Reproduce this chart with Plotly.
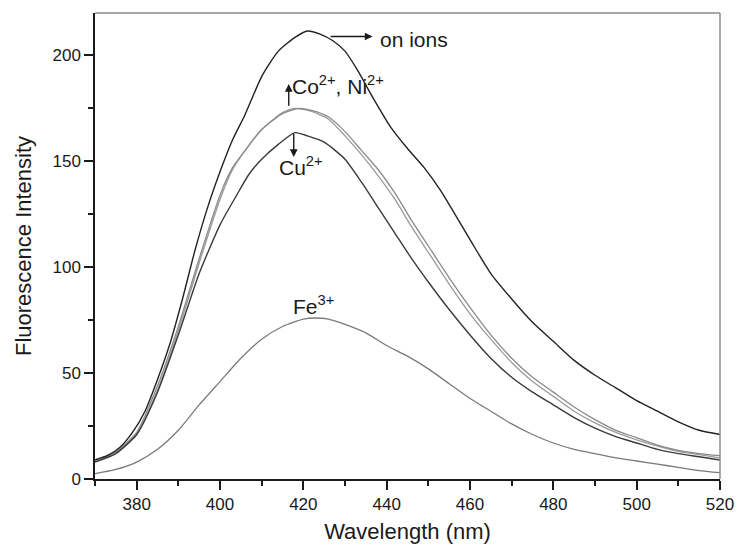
import plotly.graph_objects as go

# ---- data ----
wl_none = [370, 373, 376, 379, 382, 385, 388, 391, 394, 397, 400, 403, 406, 410, 414, 418, 421, 424, 427, 430, 433, 437, 441, 445, 449, 453, 460, 465, 470, 475, 480, 485, 490, 495, 500, 505, 510, 515, 520]
int_none = [9, 11, 15, 22, 32, 47, 64, 85, 108, 128, 145, 160, 172, 190, 202, 208.5, 211.5, 210, 207, 202, 193, 179, 166, 156, 147, 136, 113, 97, 85, 74, 65, 56, 49, 43, 37, 32, 27, 23, 21]

wl_co = [370, 375, 380, 385, 390, 395, 400, 403, 406, 410, 415, 419, 422, 426, 430, 434, 438, 442, 446, 450, 455, 460, 465, 470, 475, 480, 485, 490, 495, 500, 505, 510, 515, 520]
int_co = [9, 13, 22, 44, 72, 104, 134, 147, 155, 165, 172.5, 175, 174, 171, 164, 155, 146, 135, 122, 110, 95, 81, 68, 57, 48, 41, 34, 28, 23, 19.5, 16, 13.5, 12, 11]

wl_ni = [370, 375, 380, 385, 390, 395, 400, 403, 406, 410, 415, 418, 422, 426, 430, 434, 438, 442, 446, 450, 455, 460, 465, 470, 475, 480, 485, 490, 495, 500, 505, 510, 515, 520]
int_ni = [8.5, 12.5, 21, 42, 70, 102, 132, 146, 155, 165, 173, 175, 173.5, 170, 162, 153, 143, 132, 119, 107, 92, 78, 66, 55, 46, 39, 32, 26.5, 22, 18.5, 15.5, 13, 11.5, 10]

wl_cu = [370, 375, 380, 385, 390, 395, 400, 404, 407, 410, 414, 418, 421, 425, 430, 434, 438, 442, 446, 450, 455, 460, 465, 470, 475, 480, 485, 490, 495, 500, 505, 510, 515, 520]
int_cu = [8, 12, 21, 41, 68, 97, 120, 134, 144, 151, 158, 163.5, 162, 159, 151, 140, 128, 116, 104, 93, 80, 68, 57, 48, 41, 35, 29, 24, 20, 17, 14, 12, 10.5, 9]

wl_fe = [370, 375, 380, 385, 390, 395, 400, 405, 410, 415, 420, 423, 426, 430, 435, 440, 445, 450, 455, 460, 465, 470, 475, 480, 485, 490, 495, 500, 505, 510, 515, 520]
int_fe = [2.5, 4.5, 8, 14, 23, 35, 46, 57, 66, 72, 75.5, 76, 75.5, 73, 69, 63, 58, 52, 45, 38, 32, 26, 21, 17, 14, 12, 10, 8.5, 7, 5.5, 4, 3]

x_ticks = [380, 400, 420, 440, 460, 480, 500, 520]
y_ticks = [0, 50, 100, 150, 200]

FONT = "Arial, 'Liberation Sans', Helvetica, sans-serif"
INK = "#1a1a1a"

fig = go.Figure()
series = [
    (wl_fe, int_fe, "#7a7a7a", 1.3),
    (wl_ni, int_ni, "#9a9a9a", 1.3),
    (wl_co, int_co, "#8a8a8a", 1.3),
    (wl_cu, int_cu, "#3a3a3a", 1.4),
    (wl_none, int_none, "#222222", 1.4),
]
for xs, ys, col, w in series:
    fig.add_trace(go.Scatter(x=xs, y=ys, mode="lines",
                             line=dict(color=col, width=w, shape="spline", smoothing=0.6),
                             showlegend=False, hoverinfo="skip"))

ann_font = dict(family=FONT, size=21, color=INK)
arrow_style = dict(showarrow=True, arrowhead=2, arrowsize=1.1, arrowwidth=1.4, arrowcolor=INK, text="",
                   xref="x", yref="y", axref="x", ayref="y")
annotations = [
    dict(x=436.6, y=208.9, ax=426.2, ay=208.9, **arrow_style),
    dict(x=416.5, y=186.5, ax=416.5, ay=175.5, **arrow_style),
    dict(x=417.7, y=152.0, ax=417.7, ay=163.6, **arrow_style),
    dict(x=438.0, y=207.7, xref="x", yref="y", text="on ions", showarrow=False,
         xanchor="left", yanchor="middle", font=ann_font),
    dict(x=416.8, y=179.0, xref="x", yref="y", text="Co<sup>2+</sup>, Ni<sup>2+</sup>", showarrow=False,
         xanchor="left", yanchor="bottom", font=ann_font),
    dict(x=413.7, y=140.6, xref="x", yref="y", text="Cu<sup>2+</sup>", showarrow=False,
         xanchor="left", yanchor="bottom", font=ann_font),
    dict(x=417.0, y=75.2, xref="x", yref="y", text="Fe<sup>3+</sup>", showarrow=False,
         xanchor="left", yanchor="bottom", font=ann_font),
]

fig.update_layout(
    width=746, height=552, autosize=False,
    margin=dict(l=95, r=16, t=13, b=68),
    plot_bgcolor="white", paper_bgcolor="white",
    font=dict(family=FONT, size=17, color=INK),
    annotations=annotations,
    shapes=[
        dict(type="line", xref="paper", yref="paper", x0=0, x1=1, y0=1, y1=1,
             line=dict(color="#8c8c8c", width=1.5)),
        dict(type="line", xref="paper", yref="paper", x0=1, x1=1, y0=0, y1=1,
             line=dict(color="#8c8c8c", width=1.5)),
    ],
    xaxis=dict(
        range=[370, 520], tickvals=x_ticks, ticktext=[str(v) for v in x_ticks],
        showgrid=False, zeroline=False, showline=True, linecolor=INK, linewidth=1.5,
        ticks="outside", ticklen=9, tickwidth=1.5, tickcolor=INK,
        minor=dict(tickvals=[370, 390, 410, 430, 450, 470, 490, 510], ticks="outside",
                   ticklen=5, tickwidth=1.5, tickcolor=INK),
        tickfont=dict(size=17, family=FONT, color=INK),
        ticklabeloverflow="allow",
        title=dict(text="Wavelength (nm)", font=dict(size=22, family=FONT, color=INK), standoff=10),
    ),
    yaxis=dict(
        range=[0, 220], tickvals=y_ticks, ticktext=[str(v) for v in y_ticks],
        showgrid=False, zeroline=False, showline=True, linecolor=INK, linewidth=1.5,
        ticks="outside", ticklen=9, tickwidth=1.5, tickcolor=INK,
        minor=dict(tickvals=[25, 75, 125, 175], ticks="outside", ticklen=5, tickwidth=1.5, tickcolor=INK),
        tickfont=dict(size=17, family=FONT, color=INK),
        title=dict(text="Fluorescence Intensity", font=dict(size=22, family=FONT, color=INK), standoff=15),
    ),
)

# remove the browser's default 8px body margin so the 746x552 figure fills the window exactly
fig.write_html("out.html", config={"displayModeBar": False, "responsive": False},
               post_script="document.body.style.margin='0px';")
